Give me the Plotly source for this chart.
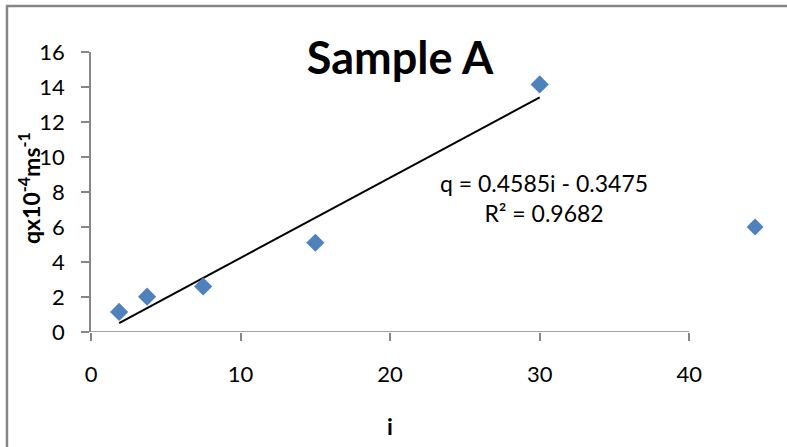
import plotly.graph_objects as go

# Data
i_vals = [1.88, 3.75, 7.5, 15.0, 30.0]
q_vals = [1.15, 2.02, 2.6, 5.1, 14.15]
extra_i = [44.4]
extra_q = [6.0]
trend_i = [1.88, 30.0]
trend_q = [0.51, 13.41]
x_ticks = [0, 10, 20, 30, 40]
y_ticks = [0, 2, 4, 6, 8, 10, 12, 14, 16]
x_axis_end = 40

W, H = 787, 447
L, T, B = 91, 52, 332          # plot area left / top / bottom pixels
X_UNIT = 14.95                 # pixels per unit of i
X_MAX = 46
R = L + X_MAX * X_UNIT          # right edge of the (extended) plot area

def px(x):
    return (x - L) / (R - L)

def py(y):
    return (B - y) / (B - T)

FONT = "Lato"
BLUE = "#4F81BD"
GREY = "#868686"

fig = go.Figure()
fig.add_trace(go.Scatter(x=trend_i, y=trend_q, mode="lines",
                         line=dict(color="black", width=2), showlegend=False,
                         cliponaxis=False))
fig.add_trace(go.Scatter(x=i_vals, y=q_vals, mode="markers",
                         marker=dict(symbol="diamond", size=14, color=BLUE),
                         showlegend=False, cliponaxis=False))
fig.add_trace(go.Scatter(x=extra_i, y=extra_q, mode="markers",
                         marker=dict(symbol="diamond", size=13, color=BLUE),
                         showlegend=False, cliponaxis=False))

fig.update_layout(
    width=W, height=H,
    margin=dict(l=L, r=W - R, t=T, b=H - B, pad=0),
    paper_bgcolor="white", plot_bgcolor="white",
    font=dict(family=FONT, color="black", size=22),
    title=dict(text="Sample A", x=400 / W, xanchor="center", xref="container",
               y=1 - 58 / H, yanchor="middle", yref="container",
               font=dict(family=FONT, size=45, color="black", weight="bold")),
    xaxis=dict(range=[0, X_MAX], tickvals=x_ticks, showgrid=False, zeroline=False,
               showline=False,
               ticks="outside", ticklen=8, tickcolor=GREY, tickwidth=1.5,
               ticklabelstandoff=15, tickfont=dict(size=22)),
    yaxis=dict(range=[0, 16], tickvals=y_ticks, showgrid=False, zeroline=False,
               showline=True, linecolor=GREY, linewidth=1.5,
               ticks="outside", ticklen=8, tickcolor=GREY, tickwidth=1.5,
               ticklabelstandoff=12, tickfont=dict(size=22)),
    annotations=[
        dict(text="q = 0.4585i - 0.3475<br>R² = 0.9682", xref="paper", yref="paper",
             x=px(544), y=py(198), xanchor="center", yanchor="middle",
             showarrow=False, align="center", font=dict(size=23)),
        dict(text="qx10<sup>-4</sup>ms<sup>-1</sup>", xref="paper", yref="paper",
             x=px(29), y=py(188), xanchor="center", yanchor="middle",
             textangle=-90, showarrow=False,
             font=dict(size=23, weight="bold")),
        dict(text="i", xref="paper", yref="paper",
             x=px(390), y=py(426), xanchor="center", yanchor="middle",
             showarrow=False, font=dict(size=23, weight="bold")),
    ],
    shapes=[
        dict(type="line", xref="x", yref="y", x0=0, x1=x_axis_end, y0=0, y1=0,
             line=dict(color=GREY, width=1.5)),
        dict(type="line", xref="paper", yref="paper", x0=px(7), x1=px(7),
             y0=py(6), y1=py(H + 5), line=dict(color=GREY, width=2.5)),
        dict(type="line", xref="paper", yref="paper", x0=px(6), x1=px(W + 5),
             y0=py(6), y1=py(6), line=dict(color=GREY, width=2.5)),
    ],
)

fig.write_html("out.html")
